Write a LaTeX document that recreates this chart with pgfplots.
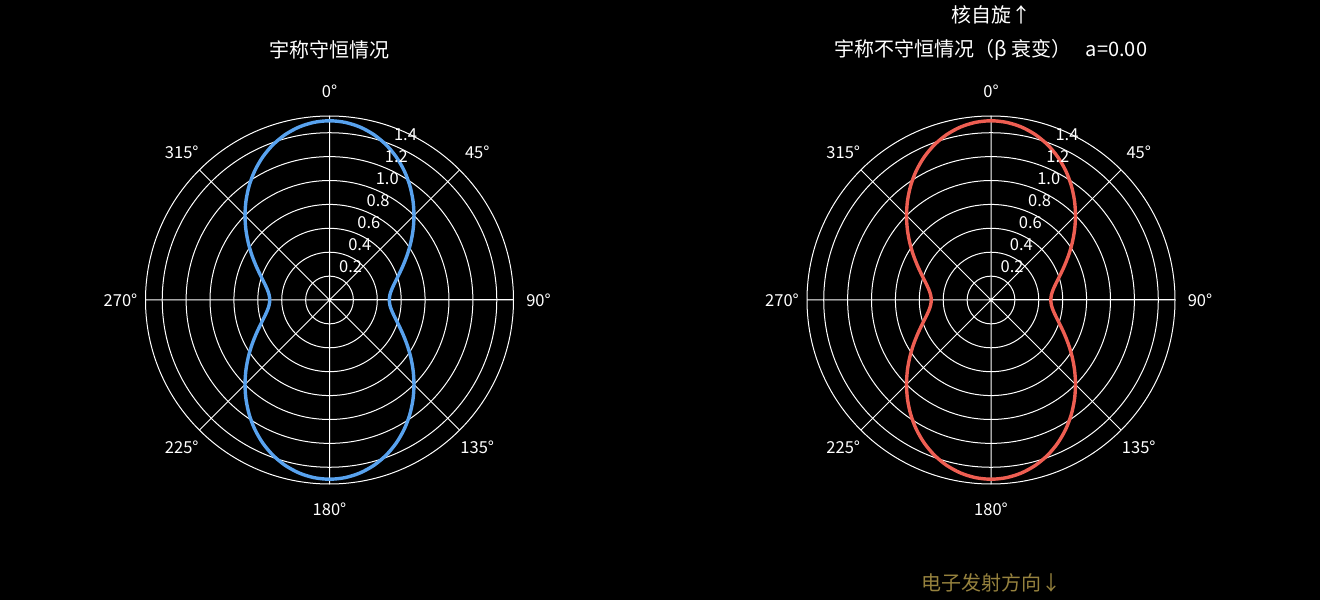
\documentclass[border=0pt]{standalone}
\usepackage{pgfplots}
\pgfplotsset{compat=1.18}
\usepackage{pgfplotstable}
\usepgfplotslibrary{polar}
\usepackage{fontspec}
\setmainfont{Noto Sans CJK SC}
\definecolor{cblue}{RGB}{88,162,238}
\definecolor{cred}{RGB}{238,94,82}
\definecolor{cgold}{RGB}{150,130,62}

\pgfplotstableread{
phi r
0 0.5000
5 0.5076
10 0.5302
15 0.5670
20 0.6170
25 0.6786
30 0.7500
35 0.8290
40 0.9132
45 1.0000
50 1.0868
55 1.1710
60 1.2500
65 1.3214
70 1.3830
75 1.4330
80 1.4698
85 1.4924
90 1.5000
95 1.4924
100 1.4698
105 1.4330
110 1.3830
115 1.3214
120 1.2500
125 1.1710
130 1.0868
135 1.0000
140 0.9132
145 0.8290
150 0.7500
155 0.6786
160 0.6170
165 0.5670
170 0.5302
175 0.5076
180 0.5000
185 0.5076
190 0.5302
195 0.5670
200 0.6170
205 0.6786
210 0.7500
215 0.8290
220 0.9132
225 1.0000
230 1.0868
235 1.1710
240 1.2500
245 1.3214
250 1.3830
255 1.4330
260 1.4698
265 1.4924
270 1.5000
275 1.4924
280 1.4698
285 1.4330
290 1.3830
295 1.3214
300 1.2500
305 1.1710
310 1.0868
315 1.0000
320 0.9132
325 0.8290
330 0.7500
335 0.6786
340 0.6170
345 0.5670
350 0.5302
355 0.5076
360 0.5000
}\curvedata

\newcommand{\tk}{\fontsize{16.5bp}{19bp}\selectfont}
\newcommand{\ttl}{\fontsize{20bp}{23bp}\selectfont}
\newcommand{\decor}{%
  \node[white,font=\tk] at (axis cs:90,1.749) {0°};
  \node[white,font=\tk] at (axis cs:45,1.749) {45°};
  \node[white,font=\tk] at (axis cs:0,1.749) {90°};
  \node[white,font=\tk] at (axis cs:315,1.749) {135°};
  \node[white,font=\tk] at (axis cs:270,1.749) {180°};
  \node[white,font=\tk] at (axis cs:225,1.749) {225°};
  \node[white,font=\tk] at (axis cs:180,1.749) {270°};
  \node[white,font=\tk] at (axis cs:135,1.749) {315°};
  \node[white,font=\tk,xshift=12bp,yshift=11bp] at (axis cs:67.5,0.2) {0.2};
  \node[white,font=\tk,xshift=12bp,yshift=11bp] at (axis cs:67.5,0.4) {0.4};
  \node[white,font=\tk,xshift=12bp,yshift=11bp] at (axis cs:67.5,0.6) {0.6};
  \node[white,font=\tk,xshift=12bp,yshift=11bp] at (axis cs:67.5,0.8) {0.8};
  \node[white,font=\tk,xshift=12bp,yshift=11bp] at (axis cs:67.5,1.0) {1.0};
  \node[white,font=\tk,xshift=12bp,yshift=11bp] at (axis cs:67.5,1.2) {1.2};
  \node[white,font=\tk,xshift=12bp,yshift=11bp] at (axis cs:67.5,1.4) {1.4};
}

\pgfplotsset{
  mypolar/.style={
    scale only axis, width=368bp, height=368bp, anchor=center,
    ymin=0, ymax=1.54,
    xtick={0,45,...,315}, xticklabels={},
    ytick={0.2,0.4,0.6,0.8,1.0,1.2,1.4}, yticklabels={},
    grid=major,
    major grid style={white, line width=1bp},
    axis line style={white, line width=1bp},
    tick style={draw=none},
    clip=false,
  }
}

\begin{document}
\begin{tikzpicture}
\path[use as bounding box, fill=black] (0,0) rectangle (1320bp,600bp);
\begin{polaraxis}[mypolar, at={(329.5bp,300bp)}]
  \addplot[cblue, line width=3.4bp, smooth, no marks] table[x=phi,y=r] {\curvedata};
  \decor
\end{polaraxis}
\begin{polaraxis}[mypolar, at={(991bp,300bp)}]
  \addplot[cred, line width=3.4bp, smooth, no marks] table[x=phi,y=r] {\curvedata};
  \decor
\end{polaraxis}
\node[white,font=\ttl] at (329.5bp,550bp) {宇称守恒情况};
\node[white,font=\ttl] at (991bp,585bp) {核自旋↑};
\node[white,font=\ttl] at (991bp,550bp) {宇称不守恒情况（β 衰变）\hspace{14bp}a=0.00};
\node[cgold,font=\ttl] at (991bp,17bp) {电子发射方向↓};
\end{tikzpicture}
\end{document}
